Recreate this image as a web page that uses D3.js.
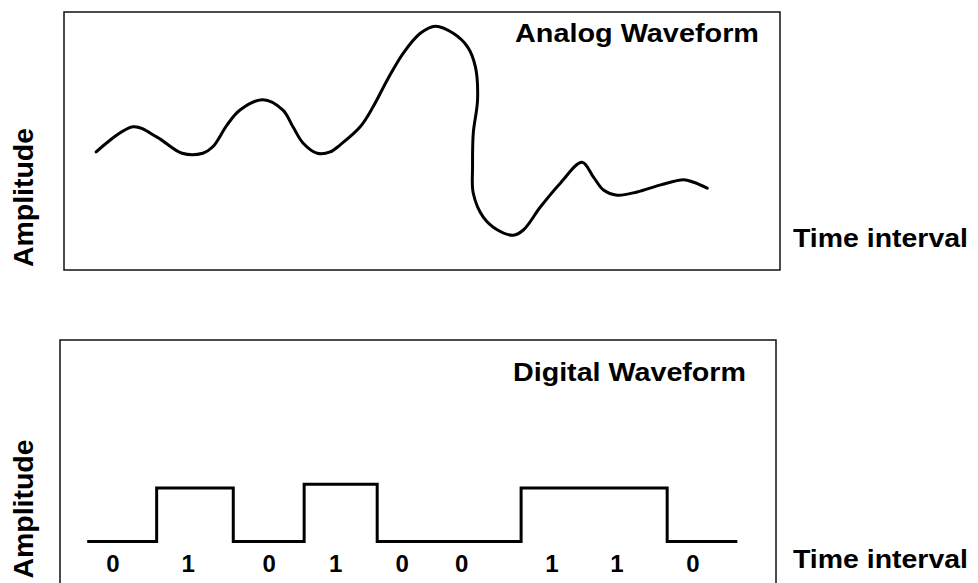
<!DOCTYPE html>
<html>
<head>
<meta charset="utf-8">
<script src="https://cdn.jsdelivr.net/npm/d3@7"></script>
<style>
  html, body { margin: 0; padding: 0; background: #fff; }
  svg { display: block; }
  text { font-family: "Liberation Sans", Arial, Helvetica, sans-serif; font-weight: bold; fill: #000; }
</style>
</head>
<body>
<svg id="chart" width="978" height="583"></svg>
<script>
// ---- Analog waveform (time units 0..10, amplitude -2..2)
const analogTime = [0.45,0.97,1.30,1.65,1.94,2.08,2.28,2.46,2.78,3.06,3.20,3.34,3.54,3.72,3.86,4.14,4.32,4.52,4.74,4.98,5.19,5.44,5.64,5.75,5.78,5.72,5.71,5.72,5.86,6.06,6.28,6.42,6.66,6.94,7.24,7.40,7.54,7.73,8.01,8.34,8.66,8.80,8.99];
const analogAmp  = [-0.17,0.22,0.06,-0.19,-0.19,-0.09,0.25,0.48,0.64,0.48,0.22,-0.03,-0.19,-0.17,-0.06,0.22,0.53,0.95,1.36,1.67,1.78,1.67,1.46,1.15,0.64,0.12,-0.40,-0.81,-1.18,-1.38,-1.46,-1.38,-1.02,-0.65,-0.33,-0.56,-0.76,-0.84,-0.79,-0.68,-0.60,-0.64,-0.73];

// ---- Digital waveform (time units 0..10, level 0/1)
const digitalEdges  = [0.38,1.35,2.42,3.41,4.43,6.44,8.48,9.46]; // segment boundaries
const digitalLevels = [0,1,0,1.07,0,1,0];                          // level in each segment
const bitLabels     = ["0","1","0","1","0","0","1","1","0"];
const bitTimes      = [0.74,1.79,2.92,3.85,4.78,5.61,6.87,7.78,8.84];

const titles = ["Analog Waveform","Digital Waveform"];
const yLabel = "Amplitude";
const xLabel = "Time interval";

const svg = d3.select("#chart");

// ===== Top panel =====
const topBox = {x0:64, x1:780, y0:12, y1:270};
const xA = d3.scaleLinear().domain([0,10]).range([topBox.x0, topBox.x1 - 0.5]);
const yA = d3.scaleLinear().domain([-2,2]).range([topBox.y1, topBox.y0]);

svg.append("rect").attr("x",topBox.x0).attr("y",topBox.y0)
  .attr("width",topBox.x1-topBox.x0).attr("height",topBox.y1-topBox.y0)
  .attr("fill","none").attr("stroke","#111").attr("stroke-width",1.5);

const analog = analogTime.map((t,i)=>({t, a:analogAmp[i]}));
svg.append("path").datum(analog)
  .attr("d", d3.line().x(d=>xA(d.t)).y(d=>yA(d.a)).curve(d3.curveCatmullRom.alpha(0.5)))
  .attr("fill","none").attr("stroke","#000").attr("stroke-width",3)
  .attr("stroke-linejoin","round").attr("stroke-linecap","round");

svg.append("text").attr("x",515).attr("y",42).attr("font-size",26)
  .attr("textLength",244).attr("lengthAdjust","spacingAndGlyphs").text(titles[0]);
svg.append("text").attr("x",793).attr("y",247).attr("font-size",26)
  .attr("textLength",175).attr("lengthAdjust","spacingAndGlyphs").text(xLabel);
svg.append("text").attr("transform","translate(33,197.5) rotate(-90)")
  .attr("text-anchor","middle").attr("font-size",28)
  .attr("textLength",139).attr("lengthAdjust","spacingAndGlyphs").text(yLabel);

// ===== Bottom panel =====
const botBox = {x0:60, x1:776, y0:340, y1:600};
const xD = d3.scaleLinear().domain([0,10]).range([botBox.x0, botBox.x1]);
const yD = d3.scaleLinear().domain([0,1]).range([541.5, 488]);

svg.append("rect").attr("x",botBox.x0).attr("y",botBox.y0)
  .attr("width",botBox.x1-botBox.x0).attr("height",botBox.y1-botBox.y0)
  .attr("fill","none").attr("stroke","#111").attr("stroke-width",1.5);

const stepPts = [];
digitalLevels.forEach((lv,i)=>{
  stepPts.push({t:digitalEdges[i], v:lv});
  stepPts.push({t:digitalEdges[i+1], v:lv});
});
svg.append("path").datum(stepPts)
  .attr("d", d3.line().x(d=>xD(d.t)).y(d=>yD(d.v)))
  .attr("fill","none").attr("stroke","#000").attr("stroke-width",3)
  .attr("stroke-linejoin","miter");

svg.selectAll(".bit").data(bitLabels).join("text").attr("class","bit")
  .attr("x",(d,i)=>xD(bitTimes[i])).attr("y",572)
  .attr("text-anchor","middle").attr("font-size",24).text(d=>d);

svg.append("text").attr("x",513).attr("y",381).attr("font-size",26)
  .attr("textLength",233).attr("lengthAdjust","spacingAndGlyphs").text(titles[1]);
svg.append("text").attr("x",793).attr("y",568).attr("font-size",26)
  .attr("textLength",175).attr("lengthAdjust","spacingAndGlyphs").text(xLabel);
svg.append("text").attr("transform","translate(33,509) rotate(-90)")
  .attr("text-anchor","middle").attr("font-size",28)
  .attr("textLength",139).attr("lengthAdjust","spacingAndGlyphs").text(yLabel);
</script>
</body>
</html>
